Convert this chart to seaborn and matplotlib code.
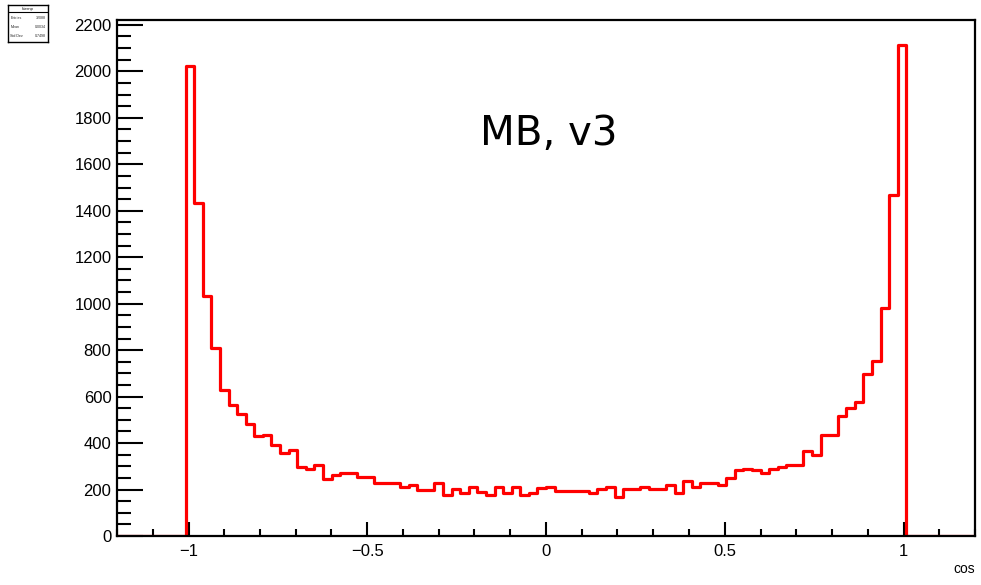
import matplotlib

matplotlib.use("Agg")

import numpy as np
import pandas as pd
import seaborn as sns
from matplotlib import pyplot as plt
from matplotlib.ticker import MultipleLocator


# histogram definition: 100 bins over [-1.2, 1.2]
BIN_LO = -1.2
BIN_HI = 1.2
N_BINS = 100

# bin contents (left to right)
COUNTS = [
    0, 0, 0, 0, 0, 0, 0, 0,
    2025, 1433, 1034, 808, 627, 563, 523, 480, 429, 434,
    393, 357, 371, 299, 289, 307, 245, 262, 272, 272,
    256, 254, 228, 228, 228, 210, 219, 196, 196, 228,
    176, 203, 184, 210, 191, 176, 210, 184, 210, 176,
    184, 206, 210, 193, 193, 193, 193, 184, 203, 210,
    170, 203, 203, 210, 203, 203, 219, 184, 238, 210,
    228, 228, 219, 249, 282, 290, 282, 271, 290, 297,
    307, 307, 367, 350, 436, 436, 516, 549, 576, 696,
    753, 980, 1466, 2115,
    0, 0, 0, 0, 0, 0, 0, 0,
]

X_TICKS = [-1, -0.5, 0, 0.5, 1]
X_TICK_LABELS = ["\u22121", "\u22120.5", "0", "0.5", "1"]
Y_MAX = 2221
LABEL = "MB, v3"


def main() -> None:
    edges = np.linspace(BIN_LO, BIN_HI, N_BINS + 1)
    centers = 0.5 * (edges[:-1] + edges[1:])
    df = pd.DataFrame({"cos": centers, "n": COUNTS})

    sns.set_style("white")
    plt.rcParams["font.family"] = ["Liberation Sans", "DejaVu Sans"]

    fig = plt.figure(figsize=(9.81, 5.85), dpi=100)
    ax = fig.add_axes([117 / 981, 49 / 585, 858 / 981, 516 / 585])

    sns.histplot(
        data=df,
        x="cos",
        weights="n",
        bins=edges.tolist(),
        element="step",
        fill=False,
        color="#ff0000",
        linewidth=2.3,
        ax=ax,
    )

    ax.set_xlim(BIN_LO, BIN_HI)
    ax.set_ylim(0, Y_MAX)
    ax.set_xticks(X_TICKS, labels=X_TICK_LABELS)
    ax.xaxis.set_minor_locator(MultipleLocator(0.1))
    ax.yaxis.set_major_locator(MultipleLocator(200))
    ax.yaxis.set_minor_locator(MultipleLocator(50))
    ax.set_ylabel("")
    ax.set_xlabel("cos", loc="right", fontsize=10, labelpad=2, color="black")

    ax.tick_params(axis="both", which="both", direction="in", bottom=True,
                   left=True, top=False, right=False, width=1.5,
                   colors="black", labelsize=12)
    ax.tick_params(axis="x", which="major", length=10, pad=6)
    ax.tick_params(axis="x", which="minor", length=5)
    ax.tick_params(axis="y", which="major", length=19, pad=4)
    ax.tick_params(axis="y", which="minor", length=10)
    for spine in ax.spines.values():
        spine.set_linewidth(1.6)
        spine.set_color("black")

    ax.text(0.503, 0.779, LABEL, transform=ax.transAxes, ha="center",
            va="center", fontsize=29, color="black", family="DejaVu Sans")

    # little ROOT stats box in the corner
    n = np.asarray(COUNTS, dtype=float)
    entries = n.sum()
    mean = (n * centers).sum() / entries
    std = np.sqrt((n * (centers - mean) ** 2).sum() / entries)
    box = fig.add_axes([8 / 981, 1 - 42 / 585, 40 / 981, 37 / 585])
    box.set_xticks([])
    box.set_yticks([])
    for spine in box.spines.values():
        spine.set_linewidth(1.0)
        spine.set_color("black")
    box.axhline(0.8, color="black", linewidth=0.8)
    box.text(0.5, 0.9, "htemp", ha="center", va="center", fontsize=3.2)
    rows = [("Entries", f"{entries:.0f}"), ("Mean", f"{mean:.4f}"),
            ("Std Dev", f"{std:.4f}")]
    for i, (name, val) in enumerate(rows):
        y = 0.65 - i * 0.25
        box.text(0.06, y, name, ha="left", va="center", fontsize=2.6)
        box.text(0.94, y, val, ha="right", va="center", fontsize=2.6)

    fig.savefig("out.png", dpi=100)
    plt.close(fig)


if __name__ == "__main__":
    main()
